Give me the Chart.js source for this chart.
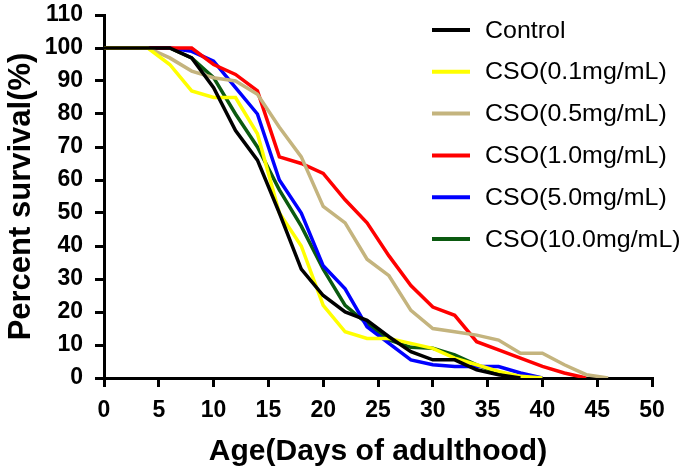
<!DOCTYPE html>
<html>
<head>
<meta charset="utf-8">
<script src="https://cdn.jsdelivr.net/npm/chart.js@4.4.1/dist/chart.umd.min.js"></script>
<style>
  html, body { margin: 0; padding: 0; background: #fff; }
  #wrap { width: 685px; height: 474px; }
</style>
</head>
<body>
<div id="wrap"><canvas id="myChart"></canvas></div>
<script>
// data (days of adulthood vs percent surviving)
const days = [0, 2, 4, 6, 8, 10, 12, 14, 16, 18, 20, 22, 24, 26, 28, 30, 32, 34, 36, 38, 40, 42, 44, 46];
const control = [100, 100, 100, 100, 97, 88, 75, 66, 50, 33, 25, 20, 17.5, 12.5, 8, 5.5, 5.5, 2.5, 1, 0, null, null, null, null];
const cso01 = [100, 100, 100, 95, 87, 85, 85, 74, 50, 40, 22, 14, 12, 12, 10.5, 9, 6, 4, 2, 0.5, 0, null, null, null];
const cso05 = [100, 100, 100, 97, 93, 91, 90, 86, 76, 67, 52, 47, 36, 31, 20.5, 15, 14, 13, 11.5, 7.5, 7.5, 4, 1, 0];
const cso10 = [100, 100, 100, 100, 100, 95, 92, 87, 67, 65, 62, 54, 47, 37, 28, 21.5, 19, 11, 8.5, 6, 3.5, 1.5, 0, null];
const cso50 = [100, 100, 100, 100, 99, 96, 88, 80, 60, 50, 34, 27, 15.5, 10.5, 5.5, 4, 3.5, 3.5, 3.5, 1.5, 0, null, null, null];
const cso100 = [100, 100, 100, 100, 97, 91, 80, 70, 57, 46, 33, 22, 16.5, 11.5, 9.3, 9, 7, 4, 1.5, 0, null, null, null, null];

const seriesLabels = ["Control", "CSO(0.1mg/mL)", "CSO(0.5mg/mL)", "CSO(1.0mg/mL)", "CSO(5.0mg/mL)", "CSO(10.0mg/mL)"];
const seriesValues = [control, cso01, cso05, cso10, cso50, cso100];
const seriesColors = ["#000000", "#ffff00", "#c4b47e", "#ff0000", "#0000ff", "#0b5a10"];

const FONT = "Arial, 'Liberation Sans', sans-serif";

// legend drawn inside the plot, top right
const legendInside = {
  id: 'legendInside',
  afterDraw(chart) {
    const ctx = chart.ctx;
    ctx.save();
    ctx.font = "24px " + FONT;
    ctx.textBaseline = 'middle';
    ctx.textAlign = 'left';
    chart.data.datasets.forEach((ds, i) => {
      const y = 30 + i * 41.8;
      ctx.strokeStyle = ds.borderColor;
      ctx.lineWidth = 4;
      ctx.beginPath();
      ctx.moveTo(432, y);
      ctx.lineTo(470, y);
      ctx.stroke();
      ctx.fillStyle = '#000';
      // text is a bit wider in the original figure
      ctx.save();
      ctx.translate(485, y + 1);
      ctx.scale(1.04, 1);
      ctx.fillText(ds.label, 0, 0);
      ctx.restore();
    });
    ctx.restore();
  }
};

const datasets = seriesLabels.map((label, i) => ({
  label: label,
  data: days.map((d, j) => ({ x: d, y: seriesValues[i][j] })),
  borderColor: seriesColors[i],
  backgroundColor: seriesColors[i],
  borderWidth: 3.5,
  pointRadius: 0,
  tension: 0,
  spanGaps: false,
}));

const axisGrid = {
  display: true,
  drawOnChartArea: false,
  drawTicks: true,
  tickLength: 9,
  tickWidth: 3,
  color: '#000',
  lineWidth: 3,
};

new Chart(document.getElementById('myChart').getContext('2d'), {
  type: 'line',
  data: { datasets: datasets },
  plugins: [legendInside],
  options: {
    responsive: true,
    maintainAspectRatio: false,
    animation: false,
    layout: { padding: { top: 15, right: 33, left: 0, bottom: 0 } },
    scales: {
      x: {
        type: 'linear',
        min: 0,
        max: 50,
        ticks: { stepSize: 5, color: '#000', padding: 10, font: { family: FONT, size: 23, weight: 'bold' } },
        grid: axisGrid,
        border: { display: true, color: '#000', width: 3 },
        title: { display: true, text: 'Age(Days of adulthood)', color: '#000', padding: 4,
                 font: { family: FONT, size: 30, weight: 'bold' } },
        afterFit: (scale) => { scale.height = 96; },
      },
      y: {
        min: 0,
        max: 110,
        ticks: { stepSize: 10, color: '#000', padding: 12, font: { family: FONT, size: 23, weight: 'bold' } },
        grid: axisGrid,
        border: { display: true, color: '#000', width: 3 },
        title: { display: true, text: 'Percent survival(%)', color: '#000', padding: 3,
                 font: { family: FONT, size: 31, weight: 'bold' } },
        afterFit: (scale) => {
          scale.width = 104;
          // let the top label overhang into the layout padding
          scale.paddingTop = 0;
          scale.paddingBottom = 0;
        },
      },
    },
    plugins: {
      legend: { display: false },
      tooltip: { enabled: false },
    },
  },
});
</script>
</body>
</html>
